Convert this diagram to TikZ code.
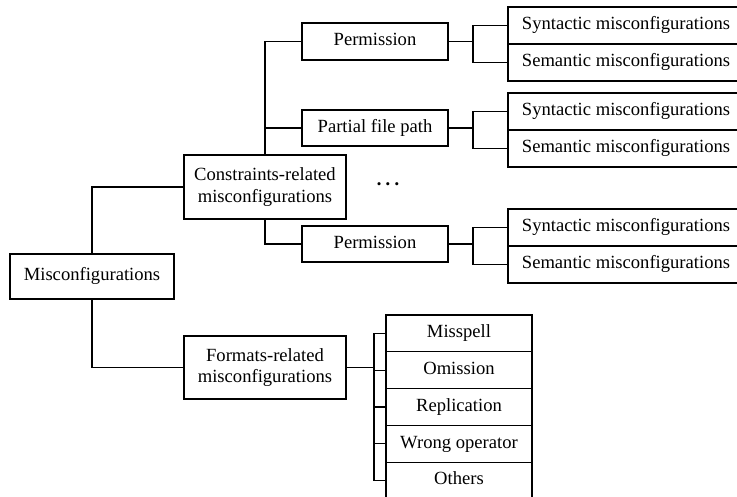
\documentclass[tikz,border=0pt]{standalone}
\usepackage{fontspec}
\setmainfont{Liberation Serif}
\begin{document}
\begin{tikzpicture}[x=1pt,y=-1pt,
  every node/.style={inner sep=0pt,outer sep=0pt},
  box/.style={draw,line width=1.3pt,fill=white,font=\fontsize{18.6}{21.5}\selectfont,align=center},
  onebox/.style={box,text height=12.6pt,text depth=4pt},
  ln/.style={line width=1.3pt,line cap=rect}]
\fill[white] (0,0) rectangle (737,497);
\useasboundingbox (0,0) rectangle (737,497);
\clip (0,0) rectangle (737,497);
% main nodes
\node[onebox,minimum width=164pt,minimum height=45pt] (mis) at (92,276.5) {Misconfigurations};
\node[box,minimum width=162pt,minimum height=64pt] (con) at (265,187) {Constraints-related\\misconfigurations};
\node[box,minimum width=162pt,minimum height=63pt] (fmt) at (265,367.5) {Formats-related\\misconfigurations};
% second level
\node[onebox,minimum width=146pt,minimum height=37pt] (per1) at (375,41.5) {Permission};
\node[onebox,minimum width=146pt,minimum height=36pt] (pfp) at (375,128) {Partial file path};
\node[onebox,minimum width=146pt,minimum height=36pt] (per2) at (375,244) {Permission};
\node[font=\fontsize{13}{13}\selectfont] (dots) at (388,186) {\textbullet\hspace{4.4pt}\textbullet\hspace{4.4pt}\textbullet};
% third level (right column)
\node[onebox,minimum width=236pt,minimum height=37pt] (s1) at (626,25.5) {Syntactic misconfigurations};
\node[onebox,minimum width=236pt,minimum height=37pt] (m1) at (626,62.5) {Semantic misconfigurations};
\node[onebox,minimum width=236pt,minimum height=37pt] (s2) at (626,111.5) {Syntactic misconfigurations};
\node[onebox,minimum width=236pt,minimum height=37pt] (m2) at (626,148.5) {Semantic misconfigurations};
\node[onebox,minimum width=236pt,minimum height=37pt] (s3) at (626,227.5) {Syntactic misconfigurations};
\node[onebox,minimum width=236pt,minimum height=37pt] (m3) at (626,264.5) {Semantic misconfigurations};
% formats list
\node[onebox,minimum width=146pt,minimum height=36.8pt] (ms) at (459,333.4) {Misspell};
\node[onebox,minimum width=146pt,minimum height=36.8pt] (om) at (459,370.2) {Omission};
\node[onebox,minimum width=146pt,minimum height=36.8pt] (rp) at (459,407.0) {Replication};
\node[onebox,minimum width=146pt,minimum height=36.8pt] (wo) at (459,443.8) {Wrong operator};
\node[onebox,minimum width=146pt,minimum height=36.8pt] (ot) at (459,480.6) {Others};
% connectors
\draw[ln] (mis.north) |- (con.west);
\draw[ln] (mis.south) |- (fmt.west);
\draw[ln] (con.north) |- (per1.west);
\draw[ln] (con.north) |- (pfp.west);
\draw[ln] (con.south) |- (per2.west);
\draw[ln] (per1.east) -- ++(25,0) coordinate (b1);
\draw[ln] (s1.west) -| (b1) |- (m1.west);
\draw[ln] (pfp.east) -- ++(25,0) coordinate (b2);
\draw[ln] (s2.west) -| (b2) |- (m2.west);
\draw[ln] (per2.east) -- ++(25,0) coordinate (b3);
\draw[ln] (s3.west) -| (b3) |- (m3.west);
\draw[ln] (fmt.east) -- ++(28,0) coordinate (bf);
\draw[ln] (ms.west) -| (bf) |- (ot.west);
\draw[ln] (om.west) -- (om.west -| bf);
\draw[ln] (rp.west) -- (rp.west -| bf);
\draw[ln] (wo.west) -- (wo.west -| bf);
\end{tikzpicture}
\end{document}
